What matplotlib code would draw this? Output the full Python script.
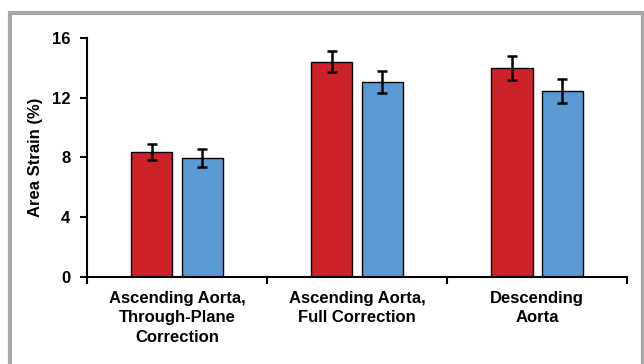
import matplotlib.pyplot as plt
import numpy as np
from matplotlib.patches import Rectangle

plt.rcParams['font.family'] = ['Liberation Sans', 'DejaVu Sans']
plt.rcParams['font.weight'] = 'bold'

categories = ["Ascending Aorta,\nThrough-Plane\nCorrection",
              "Ascending Aorta,\nFull Correction",
              "Descending\nAorta"]
red_vals = [8.35, 14.4, 14.0]
red_err = [0.55, 0.7, 0.8]
blue_vals = [7.95, 13.05, 12.45]
blue_err = [0.57, 0.75, 0.8]
yticks = [0, 4, 8, 12, 16]

fig = plt.figure(figsize=(6.44, 3.64), dpi=100)
ax = fig.add_axes([0.135, 0.24, 0.839, 0.656])

# cadre gris autour de la figure
fig.patches.append(Rectangle((10/644, -0.1), 633/644, 1.1 - 13/364,
                             transform=fig.transFigure, fill=False,
                             edgecolor='#a6a6a6', linewidth=3))

x = np.arange(len(categories))
w = 0.228
ekw = dict(elinewidth=1.8, capsize=3.5, capthick=1.8, ecolor='black')
ax.bar(x - 0.14, red_vals, w, yerr=red_err, color='#cc2229',
       edgecolor='black', linewidth=1, error_kw=ekw)
ax.bar(x + 0.14, blue_vals, w, yerr=blue_err, color='#5b9bd5',
       edgecolor='black', linewidth=1, error_kw=ekw)

ax.set_xlim(-0.5, 2.5)
ax.set_ylim(0, 16)
ax.set_yticks(yticks)
ax.set_xticks(x)
ax.set_xticklabels(categories, fontsize=12, fontweight='bold', linespacing=1.4)
ax.set_xticks([-0.5, 0.5, 1.5, 2.5], minor=True)
ax.tick_params(axis='x', which='major', length=0, pad=10)
ax.tick_params(axis='x', which='minor', length=5, width=1.5)
ax.tick_params(axis='y', length=5, width=1.5, labelsize=12, pad=7)
for lab in ax.get_yticklabels():
    lab.set_fontweight('bold')
ax.spines['top'].set_visible(False)
ax.spines['right'].set_visible(False)
ax.spines['left'].set_linewidth(1.5)
ax.spines['bottom'].set_linewidth(1.5)
ax.set_ylabel("Area Strain (%)", fontsize=12, fontweight='bold', labelpad=6)

fig.savefig("out.png", dpi=100)
